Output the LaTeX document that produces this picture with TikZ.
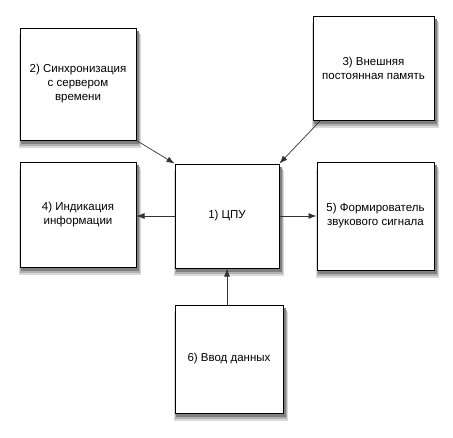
\documentclass[tikz,border=0pt]{standalone}
\usepackage{fontspec}
\setmainfont{Liberation Sans}
\usetikzlibrary{arrows.meta,backgrounds,calc}
\tikzset{
  blk/.style={draw=black, line width=1pt, fill=white, align=center,
    font=\fontsize{11.5}{14}\selectfont, inner sep=2pt},
  conn/.style={draw=black!80, line width=0.7pt, -{Latex[length=8pt,width=6pt]}},
  shd/.style={fill=black!#1, draw=none}
}
\begin{document}
\begin{tikzpicture}[x=1pt,y=-1pt]
\useasboundingbox (0,0) rectangle (453,437);
\node[blk, minimum width=116pt, minimum height=112pt] (n2) at (78,84) {2) Синхронизация\\с сервером\\времени};
\node[blk, minimum width=121pt, minimum height=104pt] (n3) at (373.5,68) {3) Внешняя\\постоянная память};
\node[blk, minimum width=116pt, minimum height=105pt] (n4) at (78,214.5) {4) Индикация\\информации};
\node[blk, minimum width=104pt, minimum height=104pt] (n1) at (227,216) {1) ЦПУ};
\node[blk, minimum width=117pt, minimum height=108pt] (n5) at (375.5,216) {5) Формирователь\\звукового сигнала};
\node[blk, minimum width=108pt, minimum height=108pt] (n6) at (229,359) {6) Ввод данных};
\begin{scope}[on background layer]
\foreach \n in {n1,n2,n3,n4,n5,n6}{
  \fill[shd=15] ($(\n.north west)+(-1,7)$) rectangle ($(\n.south east)+(4,7)$);
  \fill[shd=30] ($(\n.north west)+(0,5)$) rectangle ($(\n.south east)+(3,5)$);
  \fill[shd=50] ($(\n.north west)+(1,3)$) rectangle ($(\n.south east)+(2,3)$);
}
\end{scope}
\draw[conn] (n2.south east) -- (n1.north west);
\draw[conn] ([xshift=8pt]n3.south west) -- (n1.north east);
\draw[conn] (n1.west) -- (n1.west -| n4.east);
\draw[conn] (n1.east) -- (n1.east -| n5.west);
\draw[conn] (n1.south |- n6.north) -- (n1.south);
\end{tikzpicture}
\end{document}
